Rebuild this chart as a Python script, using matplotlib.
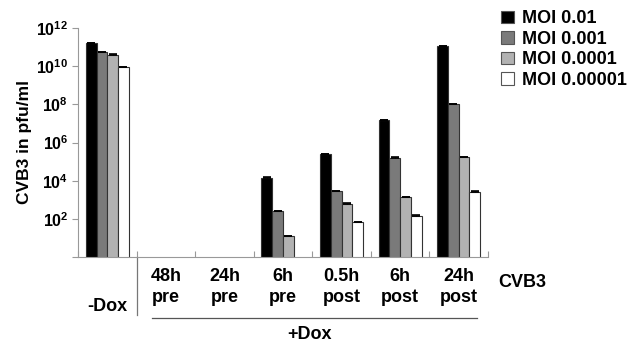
import numpy as np
import matplotlib.pyplot as plt
import matplotlib.transforms as mtransforms

plt.rcParams['font.family'] = ['Liberation Sans', 'DejaVu Sans']
plt.rcParams['font.weight'] = 'bold'
plt.rcParams['mathtext.fontset'] = 'custom'
plt.rcParams['mathtext.rm'] = 'Liberation Sans:bold'
plt.rcParams['mathtext.bf'] = 'Liberation Sans:bold'

conditions = ["-Dox", "48h\npre", "24h\npre", "6h\npre", "0.5h\npost", "6h\npost", "24h\npost"]
series = ["MOI 0.01", "MOI 0.001", "MOI 0.0001", "MOI 0.00001"]

# titers in pfu/ml, nan = nothing detected
moi_001 = [1.6e11, np.nan, np.nan, 1.45e4, 2.4e5, 1.5e7, 1.15e11]
moi_0001 = [5.4e10, np.nan, np.nan, 2.7e2, 2.75e3, 1.55e5, 1.0e8]
moi_00001 = [3.9e10, np.nan, np.nan, 13, 6.0e2, 1.45e3, 1.7e5]
moi_000001 = [9.5e9, np.nan, np.nan, np.nan, 70, 1.4e2, 2.45e3]

err_001 = [1.2e10, np.nan, np.nan, 1.5e3, 0, 0, 0]
err_0001 = [3.0e9, np.nan, np.nan, 0, 0, 1.8e4, 0]
err_00001 = [4.0e9, np.nan, np.nan, 0, 60, 0, 0]
err_000001 = [0, np.nan, np.nan, np.nan, 0, 15, 3.0e2]

values = [moi_001, moi_0001, moi_00001, moi_000001]
errors = [err_001, err_0001, err_00001, err_000001]
colors = ["#000000", "#7a7a7a", "#b2b2b2", "#ffffff"]

fig = plt.figure(figsize=(6.3, 3.43), dpi=100)
ax = fig.add_axes([78 / 630, 86 / 343, 410 / 630, 229 / 343])

x = np.arange(len(conditions))
w = 0.184
for i, (vals, errs, c) in enumerate(zip(values, errors, colors)):
    ax.bar(x + (i - 1.5) * w, vals, w, color=c, edgecolor="#333333", linewidth=0.8,
           label=series[i], zorder=2)
    ax.errorbar(x + (i - 1.5) * w, vals, yerr=[np.zeros(len(errs)), errs], fmt="none",
                ecolor="black", elinewidth=0.8, capsize=3, capthick=1.2, zorder=3)

ax.set_yscale("log")
ax.set_ylim(1, 1e12)
ax.set_xlim(-0.5, len(conditions) - 0.5)

ax.set_yticks([10.0 ** k for k in range(0, 13, 2)])
ax.set_yticklabels([""] + [r"$\mathbf{10^{%d}}$" % k for k in range(2, 13, 2)], fontsize=11.5)
ax.minorticks_off()
ax.set_xticks(np.arange(-0.5, len(conditions) + 0.5, 1.0))
ax.set_xticklabels([])
ax.tick_params(axis="x", direction="in", length=4, color="#999999")
ax.tick_params(axis="y", direction="out", length=4, color="#999999", pad=3)

for side in ["top", "right"]:
    ax.spines[side].set_visible(False)
for side in ["left", "bottom"]:
    ax.spines[side].set_color("#999999")

ax.set_ylabel("CVB3 in pfu/ml", fontsize=12.5, fontweight="bold", labelpad=3)

trans = mtransforms.blended_transform_factory(ax.transData, ax.transAxes)
ax.text(0, -0.215, conditions[0], transform=trans, ha="center", va="center", fontsize=13)
for xi, lab in zip(x[1:], conditions[1:]):
    ax.text(xi, -0.05, lab, transform=trans, ha="center", va="top", fontsize=13,
            linespacing=1.25)
ax.text(7.09, -0.11, "CVB3", transform=trans, ha="center", va="center", fontsize=13)
ax.text(3.46, -0.34, "+Dox", transform=trans, ha="center", va="center", fontsize=13)

ax.plot([0.5, 0.5], [0, -0.253], transform=trans, color="#777777", lw=0.9, clip_on=False)
ax.plot([0.763, 6.31], [-0.266, -0.266], transform=trans, color="#555555", lw=0.9,
        clip_on=False)

leg = fig.legend(loc="upper left", bbox_to_anchor=(494 / 630, 1 - 3 / 343), frameon=False,
                 fontsize=13, handlelength=0.7, handleheight=0.7, handletextpad=0.45,
                 labelspacing=0.2, borderaxespad=0)
for h in leg.legend_handles:
    h.set_edgecolor("#555555")

fig.savefig("out.png", dpi=100)
